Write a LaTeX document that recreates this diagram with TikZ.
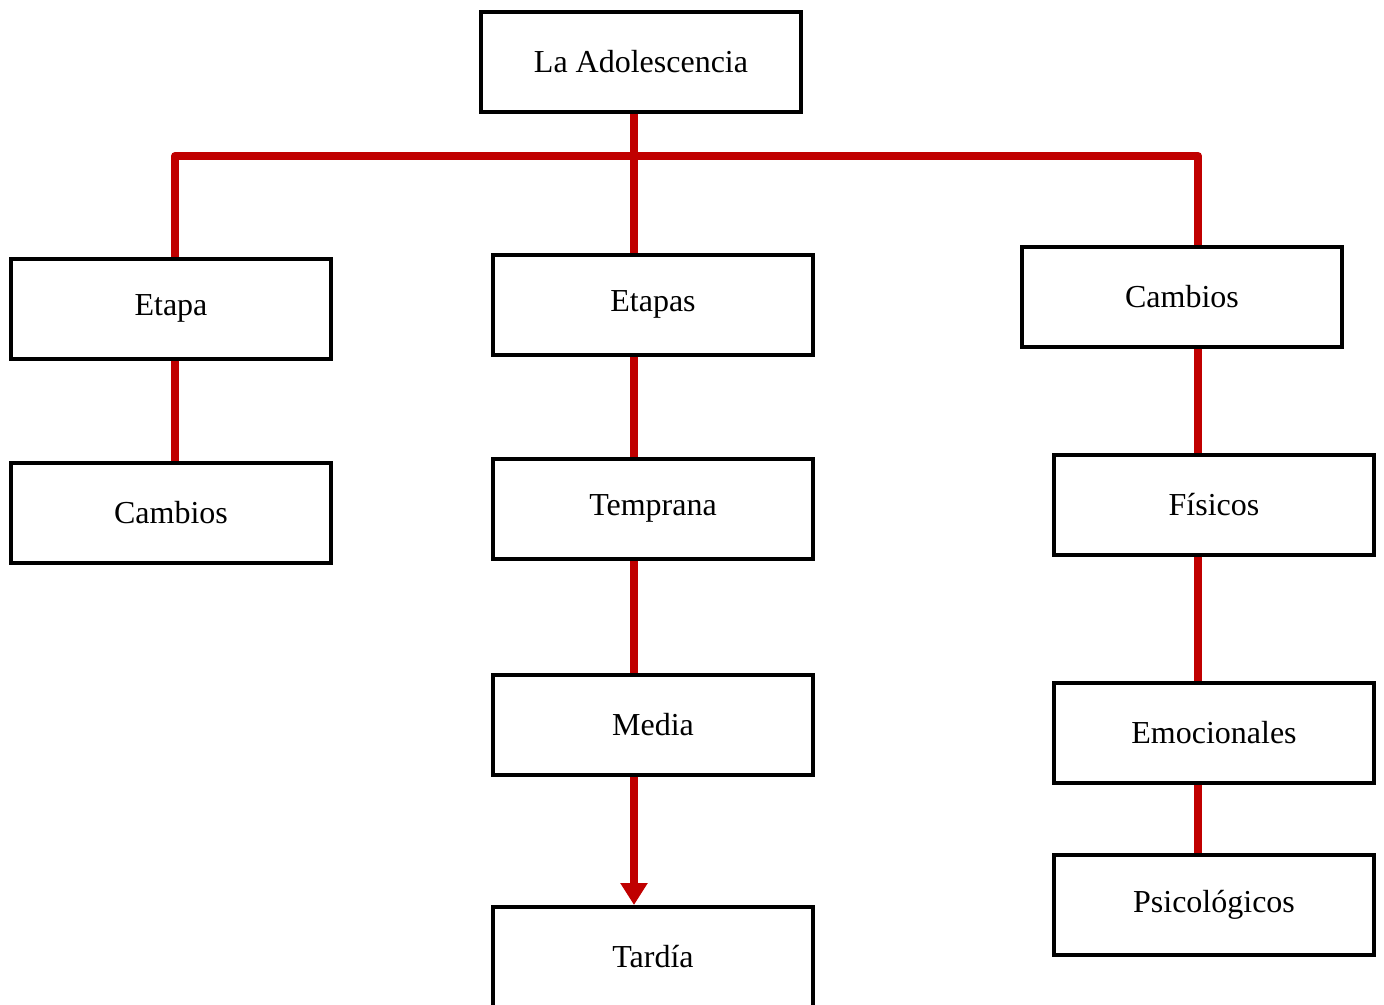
\documentclass[tikz,border=0pt]{standalone}
\usepackage{fontspec}
\setmainfont{Liberation Serif}
\usetikzlibrary{arrows.meta}
\definecolor{linkred}{HTML}{C00000}
\begin{document}
\begin{tikzpicture}[x=1pt,y=-1pt,
  box/.style={draw=black,line width=4pt,fill=white,minimum width=320pt,minimum height=100pt,inner sep=0pt,font=\fontsize{32}{38}\selectfont},
  link/.style={draw=linkred,line width=8pt,line join=round}]
\useasboundingbox (0,0) rectangle (1384,1004);
\coordinate (lx) at (175,0);
\coordinate (mx) at (634,0);
\coordinate (rx) at (1198,0);
\coordinate (bus) at (634,156);
\node[box] (top) at (641,61.5) {La Adolescencia};
\node[box] (etapa) at (171,308.5) {Etapa};
\node[box] (cambiosL) at (171,513) {Cambios};
\node[box] (etapas) at (653,304.5) {Etapas};
\node[box] (temprana) at (653,508.5) {Temprana};
\node[box] (media) at (653,724.5) {Media};
\node[box] (tardia) at (653,957) {Tardía};
\node[box] (cambiosR) at (1182,297) {Cambios};
\node[box] (fisicos) at (1214,504.5) {Físicos};
\node[box] (emocionales) at (1214,732.5) {Emocionales};
\node[box] (psico) at (1214,904.5) {Psicológicos};
\path[link] (top.south -| mx) -- (etapas.north -| mx);
\path[link] (etapa.north -| lx) |- (bus) -| (cambiosR.north -| rx);
\path[link] (etapa.south -| lx) -- (cambiosL.north -| lx);
\path[link] (etapas.south -| mx) -- (temprana.north -| mx);
\path[link] (temprana.south -| mx) -- (media.north -| mx);
\path[link,-{Triangle[length=22pt,width=26pt]}] (media.south -| mx) -- (tardia.north -| mx);
\path[link] (cambiosR.south -| rx) -- (fisicos.north -| rx);
\path[link] (fisicos.south -| rx) -- (emocionales.north -| rx);
\path[link] (emocionales.south -| rx) -- (psico.north -| rx);
\end{tikzpicture}
\end{document}
